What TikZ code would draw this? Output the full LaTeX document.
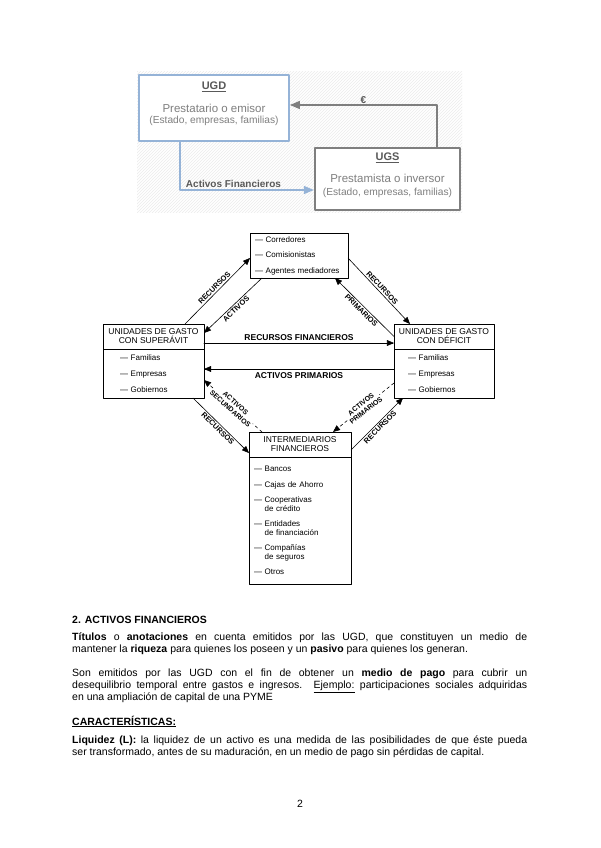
\documentclass[tikz,border=0pt]{standalone}
\usepackage{fontspec}
\setmainfont{Liberation Sans}
\usetikzlibrary{arrows}
\usetikzlibrary{positioning}
\usetikzlibrary{patterns}
\definecolor{azulcaja}{HTML}{95B3D7}
\definecolor{grisborde}{HTML}{7F7F7F}
\definecolor{gristexto}{HTML}{595959}

\begin{document}
\begin{tikzpicture}[line cap=round,line join=round,>=triangle 45,x=1pt,y=-1pt,
	caja/.style={draw,line width=0.9pt,inner sep=0pt,outer sep=0pt},
	cabeza/.style={caja,align=center,minimum height=25pt,font=\fontsize{8.5}{9}\selectfont},
	lista/.style={caja,align=left,font=\fontsize{8}{8.5}\selectfont},
	flecha/.style={->,line width=0.6pt},
	rotulo/.style={sloped,inner sep=1.5pt,font=\bfseries\fontsize{7.5}{7.5}\selectfont},
	rotulodoble/.style={rotulo,fill=white,align=center,inner sep=0.5pt,font=\bfseries\fontsize{7}{8}\selectfont},
	rotulogrande/.style={inner sep=2.5pt,font=\bfseries\fontsize{8.5}{8.5}\selectfont},
	parrafo/.style={anchor=base west,inner sep=0pt,font=\fontsize{10.5}{12}\selectfont}]

		\useasboundingbox (0,0) rectangle (600,848);
		\fill[white] (0,0) rectangle (600,848);

		%esquema UGD - UGS:
		\fill[pattern=north east lines,pattern color=gray!15] (137,72) rectangle (462,212);
		\node[draw=azulcaja,fill=white,line width=2pt,minimum width=150pt,minimum height=66pt] (ugd) at (214,108) {};
		\node[text=gristexto,font=\bfseries\fontsize{11}{11}\selectfont] (ugdtit) at (214,87) {\underline{UGD}};
		\node[text=grisborde,font=\fontsize{11.5}{11.5}\selectfont] (ugdrol) at (214,108) {Prestatario o emisor};
		\node[text=grisborde,font=\fontsize{10.2}{10.2}\selectfont] (ugdtipo) at (214,121) {(Estado, empresas, familias)};

		\node[draw=grisborde,fill=white,line width=2.5pt,minimum width=145pt,minimum height=62pt] (ugs) at (387.5,179) {};
		\node[text=gristexto,font=\bfseries\fontsize{11}{11}\selectfont] (ugstit) at (387.5,158) {\underline{UGS}};
		\node[text=grisborde,font=\fontsize{11.5}{11.5}\selectfont] (ugsrol) at (387.5,178) {Prestamista o inversor};
		\node[text=grisborde,font=\fontsize{10.2}{10.2}\selectfont] (ugstipo) at (387.5,193) {(Estado, empresas, familias)};

		%flechas
		\draw[->,color=grisborde,line width=1.3pt] ([xshift=49.5pt]ugs.north) |- node[pos=0.75,above,inner sep=1pt,text=gristexto,font=\bfseries\fontsize{10}{10}\selectfont] (euro) {€} ([yshift=3pt]ugd.east);
		\draw[->,color=azulcaja,line width=1.3pt] ([xshift=-34pt]ugd.south) |- node[pos=0.7,above,inner sep=2pt,text=gristexto,font=\bfseries\fontsize{10}{10}\selectfont] (actfin) {Activos Financieros} ([yshift=-11pt]ugs.west);

		% Circuito financiero
		\node[caja,align=left,font=\fontsize{8}{8.5}\selectfont,minimum width=98pt,minimum height=45pt,text width=88pt] (brk) at (299,255.5) {— Corredores\\[7pt]— Comisionistas\\[7pt]— Agentes mediadores};

		\node[cabeza,minimum width=101pt] (suphead) at (153.5,336.5) {UNIDADES DE GASTO\\CON SUPERÁVIT};
		\node[lista,minimum width=101pt,minimum height=49pt,text width=67pt,below=0pt of suphead] (supbody) {— Familias\\[7.5pt]— Empresas\\[7.5pt]— Gobiernos};

		\node[cabeza,minimum width=100pt] (defhead) at (444,336.5) {UNIDADES DE GASTO\\CON DÉFICIT};
		\node[lista,minimum width=100pt,minimum height=49pt,text width=72pt,below=0pt of defhead] (defbody) {— Familias\\[7.5pt]— Empresas\\[7.5pt]— Gobiernos};

		\node[cabeza,minimum width=102pt] (interhead) at (300,444.5) {INTERMEDIARIOS\\FINANCIEROS};
		\node[lista,minimum width=102pt,minimum height=127pt,text width=92pt,below=0pt of interhead] (interbody) {— Bancos\\[7pt]— Cajas de Ahorro\\[7pt]— Cooperativas\\\hphantom{— }de crédito\\[7pt]— Entidades\\\hphantom{— }de financiación\\[7pt]— Compañías\\\hphantom{— }de seguros\\[7pt]— Otros};

		%flechas del circuito
		\draw[flecha] ([xshift=31.5pt]suphead.north) -- node[rotulo,above] (rec1) {RECURSOS} ([yshift=-2.5pt]brk.west);
		\draw[flecha] ([xshift=-37pt]brk.south) -- node[rotulo,below] (act1) {ACTIVOS} ([yshift=3.5pt]suphead.east);
		\draw[flecha] ([yshift=-2.5pt]brk.east) -- node[rotulo,above] (rec2) {RECURSOS} ([xshift=-34pt]defhead.north);
		\draw[flecha] (defhead.west) -- node[rotulo,below] (prim1) {PRIMARIOS} ([xshift=36pt]brk.south);

		\draw[flecha] ([yshift=-6.5pt]suphead.east) -- node[rotulogrande,above] (recfin) {RECURSOS FINANCIEROS} ([yshift=-6.5pt]defhead.west);
		\draw[flecha] ([yshift=4.5pt]defbody.west) -- node[rotulogrande,below,inner sep=3.5pt] (actprim) {ACTIVOS PRIMARIOS} ([yshift=4.5pt]supbody.east);

		\draw[flecha,dashed] ([xshift=-38pt]interhead.north) -- node[rotulodoble] (actsec) {ACTIVOS\\SECUNDARIOS} ([yshift=-6.5pt]supbody.east);
		\draw[flecha,dashed] ([yshift=-9.5pt]defbody.west) -- node[rotulodoble] (actprim2) {ACTIVOS\\PRIMARIOS} ([xshift=33pt]interhead.north);

		\draw[flecha] ([xshift=39.5pt]supbody.south) -- node[rotulo,below] (rec3) {RECURSOS} ([yshift=-8.5pt]interhead.west);
		\draw[flecha] ([yshift=-5.5pt]interhead.east) -- node[rotulo,below] (rec4) {RECURSOS} ([xshift=-41pt]defbody.south);

		% Texto
		\node[parrafo,font=\bfseries\fontsize{10.5}{12}\selectfont] (titulo) at (72,623.3) {2. ACTIVOS FINANCIEROS};
		\node[parrafo] (parrafo1) at (72,640.7) {\parbox[t]{455pt}{\textbf{Títulos} o \textbf{anotaciones} en cuenta emitidos por las UGD, que constituyen un medio de\linebreak mantener la \textbf{riqueza} para quienes los poseen y un \textbf{pasivo} para quienes los generan.}};
		\node[parrafo] (parrafo2) at (72,676.7) {\parbox[t]{455pt}{Son emitidos por las UGD con el fin de obtener un \textbf{medio de pago} para cubrir un\linebreak desequilibrio temporal entre gastos e ingresos. \underline{Ejemplo:} participaciones sociales adquiridas\linebreak en una ampliación de capital de una PYME}};
		\node[parrafo,font=\bfseries\fontsize{10.5}{12}\selectfont] (caract) at (72,725) {\underline{CARACTERÍSTICAS:}};
		\node[parrafo] (parrafo3) at (72,743.3) {\parbox[t]{455pt}{\textbf{Liquidez (L):} la liquidez de un activo es una medida de las posibilidades de que éste pueda\linebreak ser transformado, antes de su maduración, en un medio de pago sin pérdidas de capital.}};

		\node[anchor=base,font=\fontsize{10.5}{12}\selectfont] (pagina) at (300,807) {2};

	\end{tikzpicture}
\end{document}
